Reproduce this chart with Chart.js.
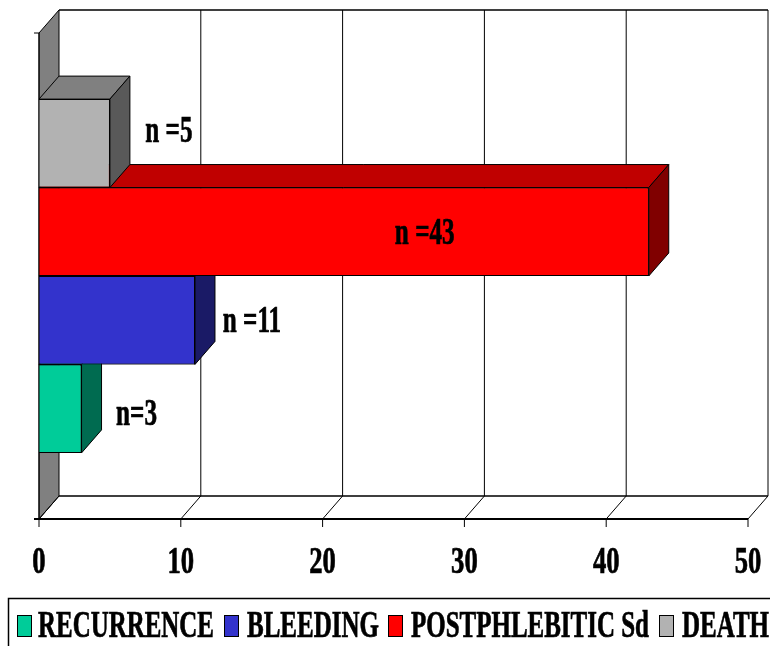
<!DOCTYPE html>
<html>
<head>
<meta charset="utf-8">
<style>
  html, body { margin: 0; padding: 0; background: #fff; overflow: hidden; }
  canvas { display: block; }
</style>
<script src="https://cdn.jsdelivr.net/npm/chart.js@4"></script>
</head>
<body>
<canvas id="chart" width="770" height="646"></canvas>
<script>
const categories = [''];
const seriesNames = ['RECURRENCE', 'BLEEDING', 'POSTPHLEBITIC Sd', 'DEATH'];
const seriesValues = [3, 11, 43, 5];
const barLabels = ['n=3', 'n =11', 'n =43', 'n =5'];
const tickStep = 10;
const axisMax = 50;

const frontColors = ['#00CC99', '#3333CC', '#FF0000', '#B2B2B2'];
const topColors = ['#00A37A', '#28288F', '#C00000', '#808080'];
const sideColors = ['#006B50', '#1A1A66', '#800000', '#595959'];

// label offset from the bar end / bar centre
const labelShift = [[55, 4], [57, 0], [-224, 0], [59, -13]];
const legendBoxX = [17, 224, 388, 659];
const legendTextX = [38, 247, 411, 682];
const legendTextW = [176, 132, 238, 87];

const DX = 20, DY = -23;
const FONT = 'bold 37px "Liberation Serif"';

function poly(ctx, pts, fill) {
    ctx.beginPath();
    pts.forEach((p, i) => i ? ctx.lineTo(p[0], p[1]) : ctx.moveTo(p[0], p[1]));
    ctx.closePath();
    if (fill) {
        ctx.fillStyle = fill;
        ctx.fill();
    }
    ctx.stroke();
}

// the reference text is squeezed sideways and looks heavy, so scale it and stroke it a little
function narrowText(ctx, text, x, y, sx, align) {
    ctx.save();
    ctx.font = FONT;
    ctx.fillStyle = '#000';
    ctx.strokeStyle = '#000';
    ctx.lineWidth = 0.7;
    ctx.textAlign = align || 'center';
    ctx.textBaseline = 'alphabetic';
    ctx.translate(x, y);
    ctx.scale(sx, 1);
    ctx.fillText(text, 0, 0);
    ctx.strokeText(text, 0, 0);
    ctx.restore();
}

const box3d = {
    id: 'box3d',
    beforeDatasetsDraw(chart) {
        const { ctx, chartArea: a, scales: { x } } = chart;
        ctx.save();
        ctx.strokeStyle = '#000';
        ctx.lineWidth = 1;

        // left wall
        poly(ctx, [[a.left, a.top], [a.left + DX, a.top + DY], [a.left + DX, a.bottom + DY], [a.left, a.bottom]], '#808080');

        // back wall + floor
        ctx.lineWidth = 1.5;
        ctx.beginPath();
        ctx.moveTo(a.left + DX, a.top + DY);
        ctx.lineTo(a.right + DX, a.top + DY);
        ctx.moveTo(a.left + DX, a.bottom + DY);
        ctx.lineTo(a.right + DX, a.bottom + DY);
        ctx.stroke();

        ctx.lineWidth = 1;
        x.ticks.forEach(t => {
            const px = x.getPixelForValue(t.value);
            ctx.beginPath();
            ctx.moveTo(px, a.bottom);
            ctx.lineTo(px + DX, a.bottom + DY);
            if (t.value > 0) ctx.lineTo(px + DX, a.top + DY);
            ctx.stroke();
        });
        ctx.restore();
    },
    afterDatasetsDraw(chart) {
        const { ctx, chartArea: a, scales: { x } } = chart;
        ctx.save();
        ctx.strokeStyle = '#000';
        ctx.lineWidth = 1;

        // bottom series first so the ones above sit on top of it
        chart.data.datasets.forEach((ds, i) => {
            const el = chart.getDatasetMeta(i).data[0];
            const top = el.y - el.height / 2, bot = el.y + el.height / 2;
            poly(ctx, [[el.base, top], [el.base + DX, top + DY], [el.x + DX, top + DY], [el.x, top]], topColors[i]);
            poly(ctx, [[el.x, top], [el.x + DX, top + DY], [el.x + DX, bot + DY], [el.x, bot]], sideColors[i]);
            el.draw(ctx);
        });

        // axis lines and ticks
        ctx.beginPath();
        ctx.moveTo(a.left, a.top);
        ctx.lineTo(a.left, a.bottom);
        ctx.moveTo(a.left - 5, a.top);
        ctx.lineTo(a.left, a.top);
        ctx.stroke();
        ctx.lineWidth = 2;
        ctx.beginPath();
        ctx.moveTo(a.left - 5, a.bottom);
        ctx.lineTo(a.right, a.bottom);
        ctx.stroke();
        ctx.lineWidth = 1;
        x.ticks.forEach(t => {
            const px = x.getPixelForValue(t.value);
            ctx.beginPath();
            ctx.moveTo(px, a.bottom);
            ctx.lineTo(px, a.bottom + 8);
            ctx.stroke();
            narrowText(ctx, String(t.value), px, a.bottom + 54, 0.72);
        });

        // bar labels
        chart.data.datasets.forEach((ds, i) => {
            const el = chart.getDatasetMeta(i).data[0];
            narrowText(ctx, barLabels[i], el.x + labelShift[i][0], el.y + labelShift[i][1] + 12, 0.68);
        });

        // legend, its bottom edge runs off the page
        ctx.lineWidth = 1.5;
        ctx.strokeRect(8.5, 598.5, 800, 60);
        ctx.lineWidth = 1;
        chart.data.datasets.forEach((ds, i) => {
            ctx.fillStyle = frontColors[i];
            ctx.fillRect(legendBoxX[i] + 0.5, 615.5, 14, 21);
            ctx.strokeRect(legendBoxX[i] + 0.5, 615.5, 14, 21);
            ctx.font = FONT;
            const w = ctx.measureText(ds.label).width;
            narrowText(ctx, ds.label, legendTextX[i], 637, legendTextW[i] / w, 'left');
        });
        ctx.restore();
    }
};

new Chart(document.getElementById('chart'), {
    type: 'bar',
    data: {
        labels: categories,
        datasets: seriesNames.map((name, i) => ({
            label: name,
            data: [seriesValues[i]],
            backgroundColor: frontColors[i],
            borderColor: '#000',
            borderWidth: 1,
            categoryPercentage: 0.728,
            barPercentage: 1,
            // first series goes at the bottom of the group
            order: seriesNames.length - i
        }))
    },
    options: {
        indexAxis: 'y',
        responsive: false,
        animation: false,
        layout: { padding: { left: 39, right: 22, top: 33, bottom: 127 } },
        plugins: { legend: { display: false }, tooltip: { enabled: false } },
        scales: {
            x: {
                min: 0,
                max: axisMax,
                ticks: { stepSize: tickStep, display: false },
                grid: { display: false },
                border: { display: false },
                afterFit(s) { s.height = 0; }
            },
            y: {
                ticks: { display: false },
                grid: { display: false },
                border: { display: false },
                afterFit(s) { s.width = 0; }
            }
        }
    },
    plugins: [box3d]
});
</script>
</body>
</html>
